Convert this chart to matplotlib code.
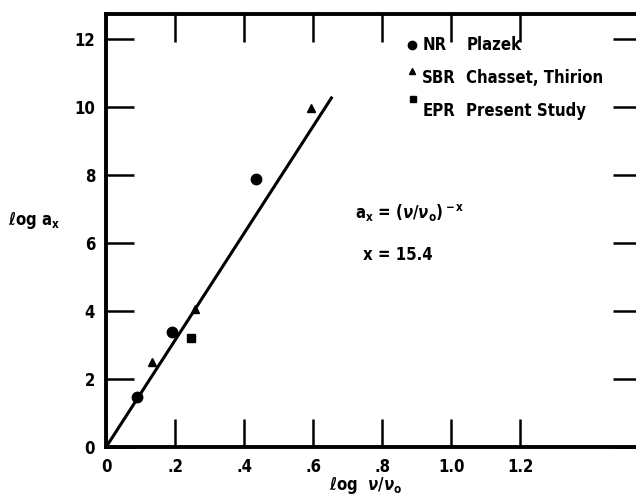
import matplotlib
matplotlib.use("Agg")
import matplotlib.pyplot as plt

plt.rcParams['font.family'] = ['DejaVu Sans']
plt.rcParams['font.stretch'] = 'condensed'
plt.rcParams['mathtext.fontset'] = 'custom'
plt.rcParams['mathtext.rm'] = 'DejaVu Sans:bold:stretch=condensed'
plt.rcParams['mathtext.it'] = 'DejaVu Sans:italic:bold:stretch=condensed'
plt.rcParams['mathtext.bf'] = 'DejaVu Sans:bold:stretch=condensed'

# --- data ---
nr_x = [0.09, 0.19, 0.434]
nr_y = [1.48, 3.39, 7.88]
sbr_x = [0.134, 0.257, 0.592]
sbr_y = [2.5, 4.06, 9.97]
epr_x = [0.245]
epr_y = [3.19]
fit_x = [0.0, 0.655]
fit_y = [0.0, 10.3]

xticks = [0, 0.2, 0.4, 0.6, 0.8, 1.0, 1.2]
xticklabels = ["0", ".2", ".4", ".6", ".8", "1.0", "1.2"]
yticks = [0, 2, 4, 6, 8, 10, 12]

fig = plt.figure(figsize=(6.36, 5.01), dpi=100)
ax = fig.add_axes([0.167, 0.108, 0.841, 0.864])

ax.plot(fit_x, fit_y, color="black", lw=2.2, solid_capstyle="butt")
ax.plot(nr_x, nr_y, "o", color="black", ms=7.5)
ax.plot(sbr_x, sbr_y, "^", color="black", ms=6)
ax.plot(epr_x, epr_y, "s", color="black", ms=5.5)

ax.set_xlim(0, 1.55)
ax.set_ylim(0, 12.73)
ax.set_xticks(xticks)
ax.set_xticklabels(xticklabels)
ax.set_yticks(yticks)
for sp in ax.spines.values():
    sp.set_linewidth(2.8)
ax.tick_params(direction="in", length=20, width=1.8, top=True, right=True,
               labelsize=12, pad=8)
for lab in ax.get_xticklabels() + ax.get_yticklabels():
    lab.set_fontweight("bold")

# legend written as text, like the original
fs = 12
ax.plot([0.887], [11.82], "o", color="black", ms=6, clip_on=False)
ax.text(0.916, 11.82, "NR", fontsize=fs, fontweight="bold", va="center")
ax.text(1.043, 11.82, "Plazek", fontsize=fs, fontweight="bold", va="center")
ax.plot([0.887], [11.05], "^", color="black", ms=5, clip_on=False)
ax.text(0.916, 10.85, "SBR", fontsize=fs, fontweight="bold", va="center")
ax.text(1.043, 10.85, "Chasset, Thirion", fontsize=fs, fontweight="bold", va="center")
ax.plot([0.89], [10.24], "s", color="black", ms=5, clip_on=False)
ax.text(0.916, 9.88, "EPR", fontsize=fs, fontweight="bold", va="center")
ax.text(1.043, 9.88, "Present Study", fontsize=fs, fontweight="bold", va="center")

ax.text(0.72, 6.88, r"a$_{\rm x}$ = ($\nu$/$\nu_{\rm o}$)$^{\rm -x}$", fontsize=fs,
        fontweight="bold", va="center")
ax.text(0.745, 5.65, "x = 15.4", fontsize=fs, fontweight="bold", va="center")

fig.text(0.012, 0.56, r"$\ell$og a$_{\rm x}$", fontsize=fs, fontweight="bold", va="center")
fig.text(0.575, 0.03, r"$\ell$og  $\nu$/$\nu_{\rm o}$", fontsize=fs, fontweight="bold",
         ha="center", va="center")

fig.savefig("out.png", dpi=100)
